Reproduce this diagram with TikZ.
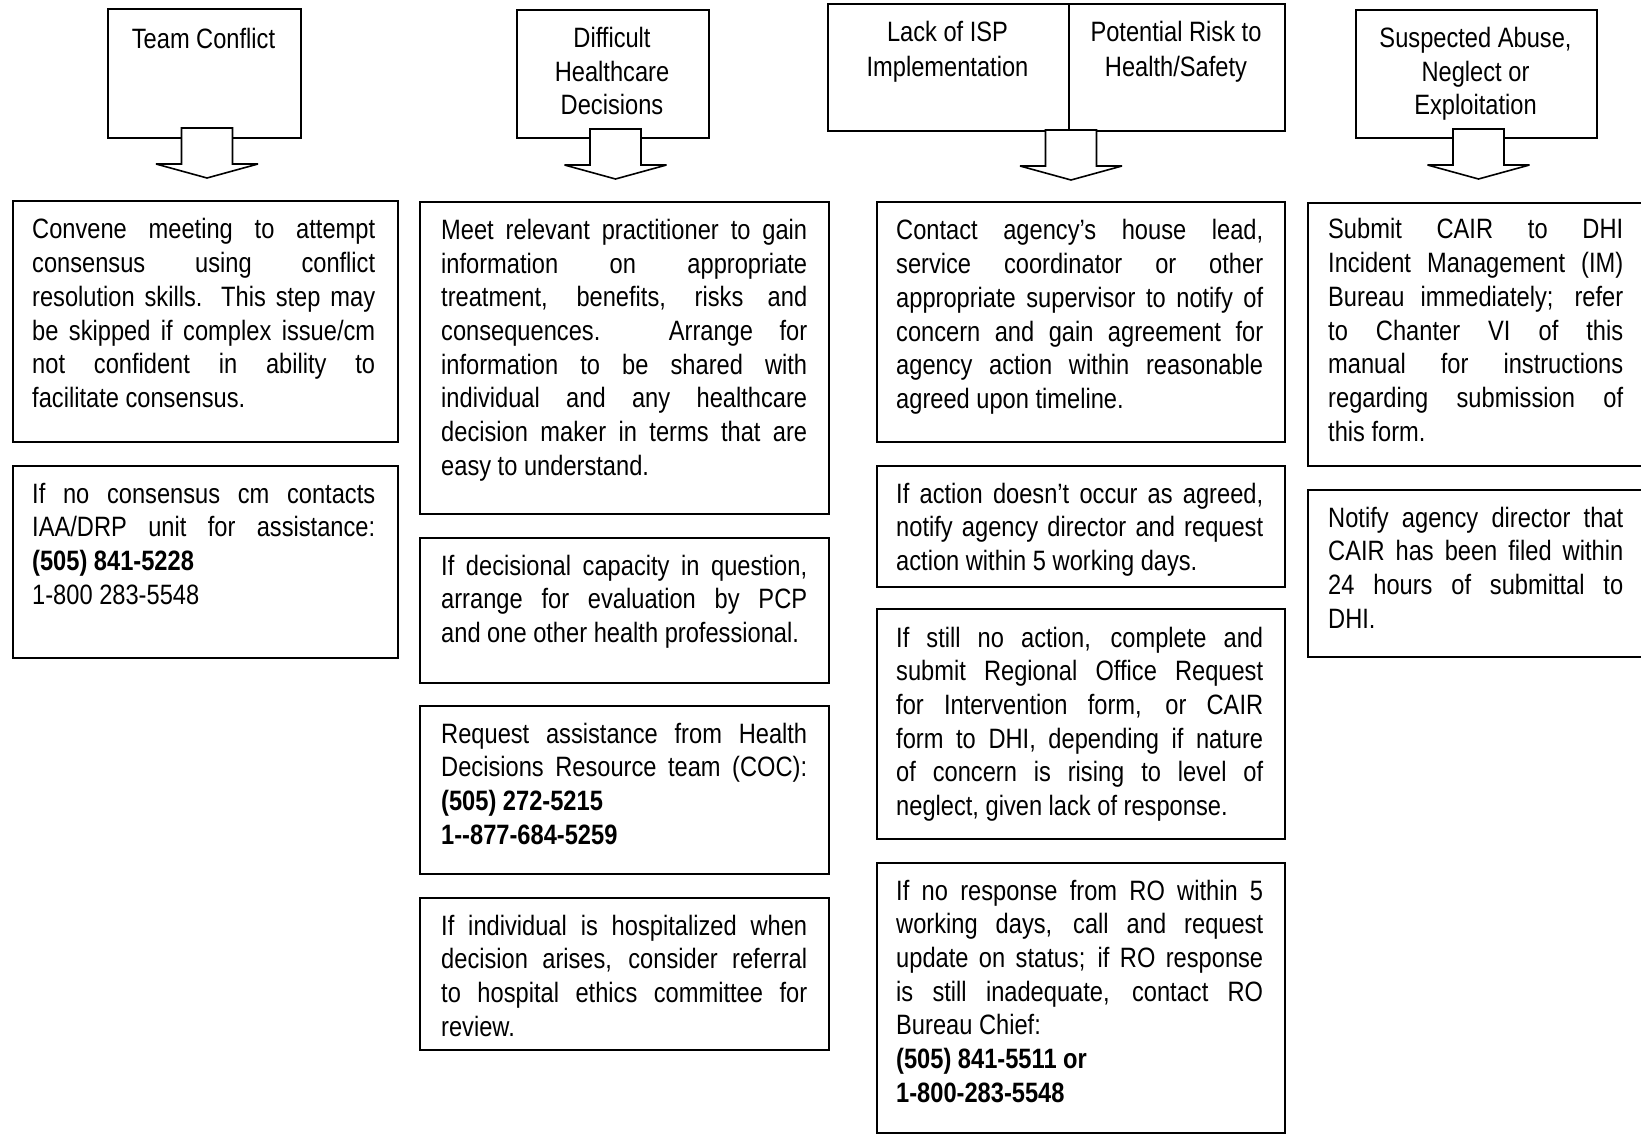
\documentclass[tikz,border=0pt]{standalone}
\usepackage{fontspec}
\setmainfont{Liberation Sans}[FakeStretch=0.845]
\usetikzlibrary{calc}
\tikzset{
  box/.style={draw, line width=1.8pt, rectangle, inner sep=0pt, anchor=north west},
  txt/.style={anchor=base west, inner sep=0pt},
  ttl/.style={anchor=base, inner sep=0pt},
  blockarrow/.style={draw, line width=1.6pt, fill=white, line join=miter, miter limit=1.5},
}
\newcommand{\bodyfont}{\fontsize{28}{33.7}\selectfont}
\newcommand{\boxtext}[2]{\parbox[t]{#1pt}{\bodyfont\tolerance=10000\hbadness=10000\relax #2}}
\newcommand{\ttltext}[2]{\parbox[t]{240pt}{\centering\fontsize{28}{#1}\selectfont #2}}
\newcommand{\blockarr}[1]{%
  \draw[blockarrow] ($(#1)+(-25.5,0)$) -- ($(#1)+(25.5,0)$) -- ($(#1)+(25.5,36)$)
    -- ($(#1)+(51,36)$) -- ($(#1)+(0,50)$) -- ($(#1)+(-51,36)$)
    -- ($(#1)+(-25.5,36)$) -- cycle;}
\begin{document}
\begin{tikzpicture}[x=1pt,y=-1pt]
\useasboundingbox (0,0) rectangle (1641,1134);
\fill[white] (0,0) rectangle (1641,1134);

% title boxes
\node[box, minimum width=193pt, minimum height=129pt] (t1) at (107,8) {};
\node[box, minimum width=192pt, minimum height=128pt] (t2) at (516,9) {};
\node[box, minimum width=241pt, minimum height=127pt] (t3a) at (827,3) {};
\node[box, minimum width=216pt, minimum height=127pt] (t3b) at (1068,3) {};
\node[box, minimum width=241pt, minimum height=128pt] (t4) at (1355,9) {};

\node[ttl] (t1x) at (203.5,49) {\ttltext{33.5}{Team Conflict}};
\node[ttl] (t2x) at (612,48) {\ttltext{33.5}{Difficult\\Healthcare\\Decisions}};
\node[ttl] (t3ax) at (947.5,42) {\ttltext{34.5}{Lack of ISP\\Implementation}};
\node[ttl] (t3bx) at (1176,42) {\ttltext{34.5}{Potential Risk to\\Health/Safety}};
\node[ttl] (t4x) at (1475.5,48) {\ttltext{33.5}{Suspected Abuse,\\Neglect or\\Exploitation}};

% body boxes
\node[box, minimum width=385pt, minimum height=241pt] (b11) at (12,200) {};
\node[box, minimum width=385pt, minimum height=192pt] (b12) at (12,465) {};
\node[box, minimum width=409pt, minimum height=312pt] (b21) at (419,201) {};
\node[box, minimum width=409pt, minimum height=145pt] (b22) at (419,537) {};
\node[box, minimum width=409pt, minimum height=168pt] (b23) at (419,705) {};
\node[box, minimum width=409pt, minimum height=152pt] (b24) at (419,897) {};
\node[box, minimum width=408pt, minimum height=240pt] (b31) at (876,201) {};
\node[box, minimum width=408pt, minimum height=121pt] (b32) at (876,465) {};
\node[box, minimum width=408pt, minimum height=230pt] (b33) at (876,608) {};
\node[box, minimum width=408pt, minimum height=270pt] (b34) at (876,862) {};
\node[box, minimum width=345pt, minimum height=263pt] (b41) at (1307,202) {};
\node[box, minimum width=345pt, minimum height=167pt] (b42) at (1307,489) {};

% body texts
\node[txt] (b11x) at ($(b11.north west)+(20,39)$) {\boxtext{343}{Convene meeting to attempt\linebreak consensus using conflict\linebreak resolution skills.  This step may\linebreak be skipped if complex issue/cm\linebreak not confident in ability to\linebreak facilitate consensus.}};
\node[txt] (b12x) at ($(b12.north west)+(20,38)$) {\boxtext{343}{If no consensus cm contacts\linebreak IAA/DRP unit for assistance:\linebreak \textbf{(505) 841-5228}\\ 1-800 283-5548}};

\node[txt] (b21x) at ($(b21.north west)+(22,38.5)$) {\boxtext{366}{Meet relevant practitioner to gain\linebreak information on appropriate\linebreak treatment, benefits, risks and\linebreak consequences.  Arrange for\linebreak information to be shared with\linebreak individual and any healthcare\linebreak decision maker in terms that are\linebreak easy to understand.}};
\node[txt] (b22x) at ($(b22.north west)+(22,38)$) {\boxtext{366}{If decisional capacity in question,\linebreak arrange for evaluation by PCP\linebreak and one other health professional.}};
\node[txt] (b23x) at ($(b23.north west)+(22,38)$) {\boxtext{366}{Request assistance from Health\linebreak Decisions Resource team (COC):\linebreak \textbf{(505) 272-5215}\\ \textbf{1-{}-877-684-5259}}};
\node[txt] (b24x) at ($(b24.north west)+(22,38)$) {\boxtext{366}{If individual is hospitalized when\linebreak decision arises, consider referral\linebreak to hospital ethics committee for\linebreak review.}};

\node[txt] (b31x) at ($(b31.north west)+(20,39)$) {\boxtext{367}{Contact agency’s house lead,\linebreak service coordinator or other\linebreak appropriate supervisor to notify of\linebreak concern and gain agreement for\linebreak agency action within reasonable\linebreak agreed upon timeline.}};
\node[txt] (b32x) at ($(b32.north west)+(20,38)$) {\boxtext{367}{If action doesn’t occur as agreed,\linebreak notify agency director and request\linebreak action within 5 working days.}};
\node[txt] (b33x) at ($(b33.north west)+(20,39)$) {\boxtext{367}{If still no action, complete and\linebreak submit Regional Office Request\linebreak for Intervention form, or CAIR\linebreak form to DHI, depending if nature\linebreak of concern is rising to level of\linebreak neglect, given lack of response.}};
\node[txt] (b34x) at ($(b34.north west)+(20,38)$) {\boxtext{367}{If no response from RO within 5\linebreak working days, call and request\linebreak update on status; if RO response\linebreak is still inadequate, contact RO\linebreak Bureau Chief:\\ \textbf{(505) 841-5511 or}\\ \textbf{1-800-283-5548}}};

\node[txt] (b41x) at ($(b41.north west)+(21,37)$) {\boxtext{295}{Submit CAIR to DHI\linebreak Incident Management (IM)\linebreak Bureau immediately; refer\linebreak to Chanter VI of this\linebreak manual for instructions\linebreak regarding submission of\linebreak this form.}};
\node[txt] (b42x) at ($(b42.north west)+(21,38)$) {\boxtext{295}{Notify agency director that\linebreak CAIR has been filed within\linebreak 24 hours of submittal to\linebreak DHI.}};

% block arrows
\coordinate (a1) at (207,128);
\coordinate (a2) at (615.5,129);
\coordinate (a3) at (1071,130);
\coordinate (a4) at (1478.5,129);
\blockarr{a1}
\blockarr{a2}
\blockarr{a3}
\blockarr{a4}
\end{tikzpicture}
\end{document}
